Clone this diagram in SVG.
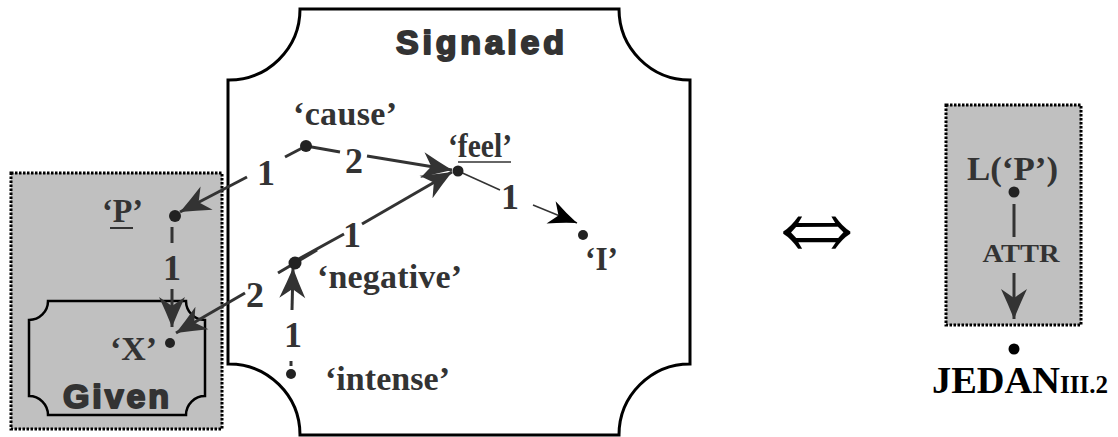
<svg xmlns="http://www.w3.org/2000/svg" width="1118" height="437" viewBox="0 0 1118 437">
<style>
.lbl{font-family:"Liberation Serif","Times New Roman",serif;font-weight:bold;font-size:34px;fill:#333}
.num{font-family:"Liberation Serif","Times New Roman",serif;font-weight:bold;font-size:36px;fill:#333;text-anchor:middle}
.title{font-family:"Liberation Sans",Arial,sans-serif;font-weight:900;font-size:34px;fill:#333;stroke:#333;stroke-width:2;stroke-linejoin:round}
.gray{fill:#c0c0c0;stroke:#000;stroke-width:3;stroke-dasharray:2.5 1.5}
.e{stroke:#333;stroke-width:3;fill:none}
.et{stroke:#333;stroke-width:1.5;fill:none}
.dot{fill:#222}
</style>
<defs>
<marker id="ah" markerUnits="userSpaceOnUse" viewBox="-32 -15 34 30" refX="0" refY="0" markerWidth="34" markerHeight="30" orient="auto">
<path d="M0,0 Q-15,-6 -30,-13 L-21,0 L-30,13 Q-15,6 0,0 Z" fill="#333"/>
</marker>
<marker id="ahb" markerUnits="userSpaceOnUse" viewBox="-32 -15 34 30" refX="0" refY="0" markerWidth="34" markerHeight="30" orient="auto">
<path d="M0,0 Q-14,-5 -28,-12 L-20,0 L-28,12 Q-14,5 0,0 Z" fill="#000"/>
</marker>
</defs>
<rect width="1118" height="437" fill="#fff"/>

<g id="given-area">
<rect class="gray" x="11" y="173" width="211" height="256"/>
<path d="M48,301 H186 A19,19 0 0 0 205,320 V396 A19,19 0 0 0 186,415 H48 A19,19 0 0 0 29,396 V320 A19,19 0 0 0 48,301 Z" fill="none" stroke="#000" stroke-width="2.5"/>
<text class="title" x="63" y="408" font-size="31" textLength="106" lengthAdjust="spacing">Given</text>
</g>

<g id="signaled-area">
<path d="M300,9 H619 A71,71 0 0 0 690,80 V364 A71,71 0 0 0 619,435 H300 A71,71 0 0 0 228,364 V80 A71,71 0 0 0 300,9 Z" fill="#fff" stroke="#000" stroke-width="3"/>
<text class="title" x="396" y="54" font-size="31" textLength="168" lengthAdjust="spacing">Signaled</text>
</g>

<g id="attr-area">
<rect class="gray" x="946" y="105" width="135" height="220"/>
</g>

<g id="connectors">
<!-- cause -> P -->
<line class="e" x1="306" y1="146" x2="285" y2="157"/>
<line class="e" x1="247" y1="177" x2="180" y2="212" marker-end="url(#ah)"/>
<text class="num" x="266" y="185">1</text>
<!-- cause -> feel -->
<line class="e" x1="306" y1="146" x2="340" y2="152"/>
<line class="e" x1="367" y1="156" x2="452" y2="170" marker-end="url(#ah)"/>
<text class="num" x="354" y="173">2</text>
<!-- negative -> feel -->
<line class="e" x1="295" y1="261" x2="344" y2="234"/>
<line class="e" x1="362" y1="224" x2="452" y2="172" marker-end="url(#ah)"/>
<text class="num" x="352" y="247">1</text>
<!-- negative -> X -->
<line class="e" x1="317" y1="250" x2="278" y2="273"/>
<line class="e" x1="245" y1="293" x2="176" y2="333" marker-end="url(#ah)"/>
<text class="num" x="255" y="307">2</text>
<!-- P -> X -->
<line class="e" x1="172" y1="227" x2="172" y2="243"/>
<line class="e" x1="172" y1="289" x2="172" y2="327" marker-end="url(#ah)"/>
<text class="num" x="172" y="280">1</text>
<!-- intense -> negative -->
<line class="e" x1="291" y1="361" x2="291" y2="366" stroke-width="2"/>
<line class="e" x1="292" y1="310" x2="293" y2="268" marker-end="url(#ah)"/>
<text class="num" x="293" y="347">1</text>
<!-- feel -> I -->
<line class="et" x1="458" y1="171" x2="500" y2="190"/>
<line class="et" x1="533" y1="205" x2="577" y2="223" marker-end="url(#ahb)"/>
<text class="num" x="510" y="209">1</text>
<!-- L(P) -> JEDAN -->
<line class="e" x1="1014" y1="204" x2="1014" y2="237"/>
<line class="e" x1="1014" y1="273" x2="1014" y2="319" marker-end="url(#ah)"/>
<text x="1021" y="262" text-anchor="middle" font-family="Liberation Serif, Times New Roman, serif" font-weight="bold" font-size="26" fill="#333" textLength="77" lengthAdjust="spacingAndGlyphs">ATTR</text>
</g>

<g id="node-cause">
<circle class="dot" cx="306" cy="146" r="6"/>
<text class="lbl" x="293" y="125" textLength="104" lengthAdjust="spacing">‘cause’</text>
</g>
<g id="node-feel">
<circle class="dot" cx="458" cy="171" r="5.5"/>
<text class="lbl" x="448" y="157" textLength="64" lengthAdjust="spacingAndGlyphs">‘feel’</text>
<line x1="458" y1="162" x2="511" y2="162" stroke="#333" stroke-width="1.6"/>
</g>
<g id="node-I">
<circle class="dot" cx="583" cy="235" r="5"/>
<text class="lbl" x="585" y="270" textLength="33" lengthAdjust="spacingAndGlyphs">‘I’</text>
</g>
<g id="node-negative">
<circle class="dot" cx="295" cy="263" r="6.5"/>
<text class="lbl" x="317" y="288" textLength="145" lengthAdjust="spacing">‘negative’</text>
</g>
<g id="node-intense">
<circle class="dot" cx="291" cy="374" r="5"/>
<text class="lbl" x="325" y="390" textLength="125" lengthAdjust="spacing">‘intense’</text>
</g>
<g id="node-P">
<circle class="dot" cx="175" cy="216" r="6"/>
<text class="lbl" x="102" y="222" textLength="41" lengthAdjust="spacingAndGlyphs">‘P’</text>
<line x1="110" y1="228" x2="133" y2="228" stroke="#333" stroke-width="2"/>
</g>
<g id="node-X">
<circle class="dot" cx="170" cy="343" r="5"/>
<text class="lbl" x="110" y="360" textLength="47" lengthAdjust="spacingAndGlyphs">‘X’</text>
</g>
<g id="node-LP">
<circle class="dot" cx="1014" cy="192" r="5.5"/>
<text class="lbl" x="967" y="180" font-size="32" textLength="91" lengthAdjust="spacingAndGlyphs">L(‘P’)</text>
</g>
<g id="node-JEDAN">
<circle cx="1014" cy="349" r="5.5" fill="#000"/>
<text x="932" y="393" font-family="Liberation Serif, Times New Roman, serif" font-weight="bold" fill="#000"><tspan font-size="38" textLength="128" lengthAdjust="spacingAndGlyphs">JEDAN</tspan><tspan font-size="25">III.2</tspan></text>
</g>
<g id="equiv">
<text transform="translate(817,230) scale(1.35,1.65)" x="0" y="21" text-anchor="middle" font-family="DejaVu Sans, sans-serif" font-weight="200" font-size="84" fill="#000">⇔</text>
</g>
</svg>
